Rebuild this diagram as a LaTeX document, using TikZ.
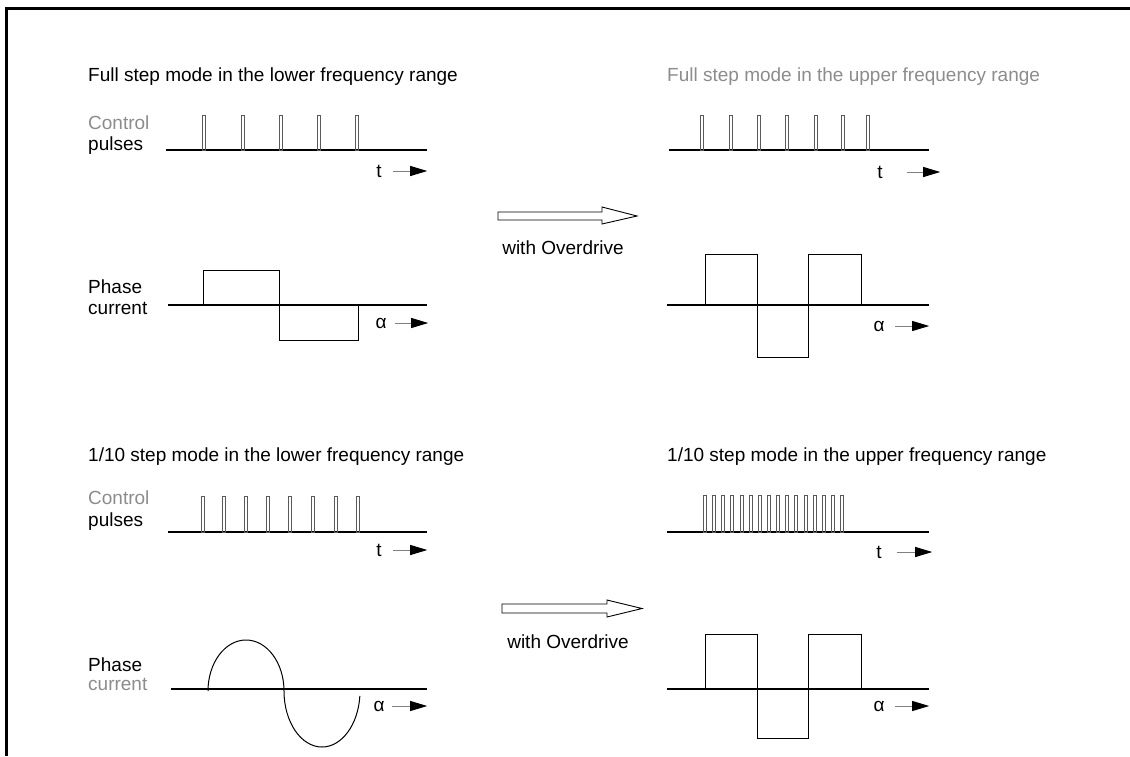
\documentclass[tikz,border=0pt]{standalone}
\usepackage{fontspec}
\setmainfont{Liberation Sans}
\usetikzlibrary{arrows.meta}
\definecolor{lightgraytext}{RGB}{140,140,140}
\definecolor{pulsegray}{RGB}{90,90,90}
\tikzset{
  lbl/.style={anchor=base west, inner sep=0pt, font=\fontsize{19}{22}\selectfont},
  axlbl/.style={anchor=base, inner sep=0pt, font=\fontsize{19}{22}\selectfont},
  axis/.style={line width=1.1pt},
  wave/.style={line width=1pt},
  pulse/.style={draw=pulsegray, line width=0.8pt},
  dirarrow/.style={gray, line width=0.9pt, -{Triangle[length=17pt,width=10pt,color=black]}},
  hollow/.style={draw, line width=0.9pt, fill=white}
}
\begin{document}
\begin{tikzpicture}[x=1pt, y=-1pt, line join=miter]
  \useasboundingbox (0,0) rectangle (1130,756);
  % Frame
  \draw[line width=3pt] (6,756) -- (6,8) -- (1130,8);

  % Full step, lower range
  \node[lbl] (titleA) at (88,81) {Full step mode in the lower frequency range};
  \node[lbl, lightgraytext] (ctrlA) at (88,129) {Control};
  \node[lbl] (pulsA) at (88,150) {pulses};
  \draw[axis] (166,150) -- (427,150);
  \foreach \x in {204,243,281,319,357}
    \draw[pulse] (\x-1.5,150) rectangle (\x+1.5,115);
  \node[axlbl] (tA) at (379,177) {t};
  \draw[dirarrow] ([xshift=11.4pt,yshift=6pt]tA.base east) -- +(34,0);

  \node[lbl] (phaseA) at (88,293) {Phase};
  \node[lbl] (currA) at (88,314) {current};
  \draw[axis] (168,305) -- (427,305);
  \draw[wave] (203,305) -- (203,270) -- (279,270) -- (279,340) -- (358,340) -- (358,305);
  \node[axlbl] (alA) at (381,328) {α};
  \draw[dirarrow] ([xshift=8.5pt,yshift=5pt]alA.base east) -- +(33,0);

  % Overdrive arrows
  \draw[hollow] (498,212) -- (602,212) -- (602,207) -- (637,216) -- (602,224) -- (602,220) -- (498,220) -- cycle;
  \node[axlbl] (odA) at (563,254) {with Overdrive};

  % Full step, upper range
  \node[lbl, lightgraytext] (titleB) at (667,81) {Full step mode in the upper frequency range};
  \draw[axis] (669,150) -- (929,150);
  \foreach \x in {702,731,759,787,816,843,868}
    \draw[pulse] (\x-1.5,150) rectangle (\x+1.5,115);
  \node[axlbl] (tB) at (880,178) {t};
  \draw[dirarrow] ([xshift=24.4pt,yshift=6pt]tB.base east) -- +(33,0);

  \draw[axis] (667,305) -- (929,305);
  \draw[wave] (705,305) -- (705,254) -- (757,254) -- (757,357) -- (808,357) -- (808,254) -- (861,254) -- (861,305);
  \node[axlbl] (alB) at (879,331) {α};
  \draw[dirarrow] ([xshift=10.5pt,yshift=5pt]alB.base east) -- +(34,0);

  % 1/10 step, lower range
  \node[lbl] (titleC) at (88,461) {1/10 step mode in the lower frequency range};
  \node[lbl, lightgraytext] (ctrlC) at (88,504) {Control};
  \node[lbl] (pulsC) at (88,526) {pulses};
  \draw[axis] (168,532) -- (427,532);
  \foreach \x in {203,224,246,268,290,313,336,358}
    \draw[pulse] (\x-1.5,532) rectangle (\x+1.5,496);
  \node[axlbl] (tC) at (379,556) {t};
  \draw[dirarrow] ([xshift=11.4pt,yshift=6pt]tC.base east) -- +(34,0);

  \node[lbl] (phaseC) at (88,671) {Phase};
  \node[lbl, lightgraytext] (currC) at (88,690) {current};
  \draw[axis] (171,689) -- (427,689);
  \draw[wave] (208,691) arc[start angle=180, end angle=360, x radius=38, y radius=51]
    arc[start angle=180, end angle=5, x radius=38, y radius=56];
  \node[axlbl] (alC) at (379,711) {α};
  \draw[dirarrow] ([xshift=7.5pt,yshift=5pt]alC.base east) -- +(35,0);

  \draw[hollow] (502,604) -- (607,604) -- (607,600) -- (642,608.5) -- (607,617) -- (607,613) -- (502,613) -- cycle;
  \node[axlbl] (odC) at (568,648) {with Overdrive};

  % 1/10 step, upper range
  \node[lbl] (titleD) at (667,461) {1/10 step mode in the upper frequency range};
  \draw[axis] (667,532) -- (929,532);
  \foreach \i in {0,...,15}
    \draw[pulse] (705+\i*9.13-1.5,532) rectangle (705+\i*9.13+1.5,495);
  \node[axlbl] (tD) at (879,558) {t};
  \draw[dirarrow] ([xshift=15.4pt,yshift=6pt]tD.base east) -- +(35,0);

  \draw[axis] (667,689) -- (929,689);
  \draw[wave] (705,689) -- (705,634) -- (757,634) -- (757,738) -- (808,738) -- (808,634) -- (861,634) -- (861,689);
  \node[axlbl] (alD) at (879,711) {α};
  \draw[dirarrow] ([xshift=10.5pt,yshift=5pt]alD.base east) -- +(34,0);
\end{tikzpicture}
\end{document}
